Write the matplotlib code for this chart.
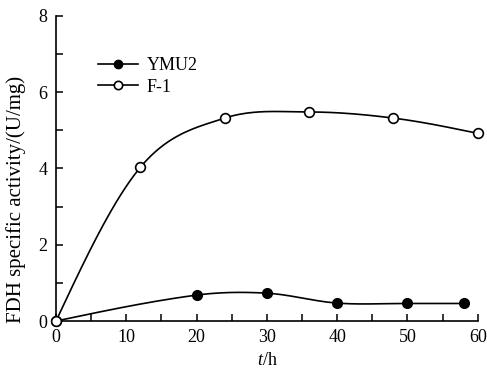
import matplotlib
matplotlib.use("Agg")
import matplotlib.pyplot as plt
import numpy as np
from matplotlib.ticker import MultipleLocator

plt.rcParams['font.family'] = ['Liberation Serif', 'DejaVu Serif']
plt.rcParams['mathtext.fontset'] = 'custom'
plt.rcParams['mathtext.it'] = 'Liberation Serif:italic'
plt.rcParams['mathtext.rm'] = 'Liberation Serif'

# data
t_ymu2 = [0, 20, 30, 40, 50, 58]
ymu2 = [0.0, 0.68, 0.73, 0.47, 0.46, 0.46]
t_f1 = [0, 12, 24, 36, 48, 60]
f1 = [0.0, 4.03, 5.32, 5.48, 5.32, 4.92]


def smooth(x, y, n=40):
    # cubic hermite, catmull-rom tangents inside, parabolic ends
    x = np.asarray(x, float)
    y = np.asarray(y, float)
    d = np.diff(y) / np.diff(x)
    m = np.zeros_like(y)
    for i in range(1, len(x) - 1):
        m[i] = (y[i + 1] - y[i - 1]) / (x[i + 1] - x[i - 1])
    m[0] = 1.5 * d[0] - 0.5 * m[1]
    m[-1] = 1.5 * d[-1] - 0.5 * m[-2]
    xs, ys = [], []
    for i in range(len(x) - 1):
        h = x[i + 1] - x[i]
        s = np.linspace(0, 1, n)
        h00 = 2 * s**3 - 3 * s**2 + 1
        h10 = s**3 - 2 * s**2 + s
        h01 = -2 * s**3 + 3 * s**2
        h11 = s**3 - s**2
        xs.append(x[i] + s * h)
        ys.append(h00 * y[i] + h10 * h * m[i] + h01 * y[i + 1] + h11 * h * m[i + 1])
    return np.concatenate(xs), np.concatenate(ys)


fig = plt.figure(figsize=(4.87, 3.69), dpi=100)
ax = fig.add_axes([0.115, 0.130, 0.866, 0.827])

lw = 1.2
xs, ys = smooth(t_ymu2, ymu2)
ax.plot(xs, ys, color='black', lw=lw, zorder=2)
xs, ys = smooth(t_f1, f1)
ax.plot(xs, ys, color='black', lw=lw, zorder=2)

ax.plot(t_ymu2, ymu2, 'o', color='black', ms=7, zorder=3)
ax.plot(t_f1, f1, 'o', mfc='white', mec='black', mew=1.2, ms=7, zorder=4)

# legend handles
ax.plot([], [], '-o', color='black', ms=6, lw=lw, label='YMU2')
ax.plot([], [], '-o', color='black', mfc='white', mew=1.2, ms=6, lw=lw, label='F-1')
ax.legend(loc='upper left', bbox_to_anchor=(0.07, 0.906), frameon=False,
          fontsize=13, handlelength=2.2, handletextpad=0.5, labelspacing=0.25,
          borderpad=0.2)

ax.set_xlim(0, 60)
ax.set_ylim(0, 8)
ax.xaxis.set_major_locator(MultipleLocator(10))
ax.xaxis.set_minor_locator(MultipleLocator(5))
ax.yaxis.set_major_locator(MultipleLocator(2))
ax.yaxis.set_minor_locator(MultipleLocator(1))
ax.spines['top'].set_visible(False)
ax.spines['right'].set_visible(False)
for s in ['left', 'bottom']:
    ax.spines[s].set_linewidth(1.2)
ax.tick_params(which='both', direction='in', width=1.1, length=5, labelsize=13)
ax.tick_params(axis='x', pad=6)
ax.tick_params(axis='y', pad=6)
ax.set_xlabel('$t$/h', fontsize=13)
ax.xaxis.set_label_coords(0.5, -0.102)
ax.set_ylabel('FDH specific activity/(U/mg)', fontsize=15)
ax.yaxis.set_label_coords(-0.07, 0.40)
for line in ax.lines:
    line.set_clip_on(False)

fig.savefig('out.png', dpi=100)
